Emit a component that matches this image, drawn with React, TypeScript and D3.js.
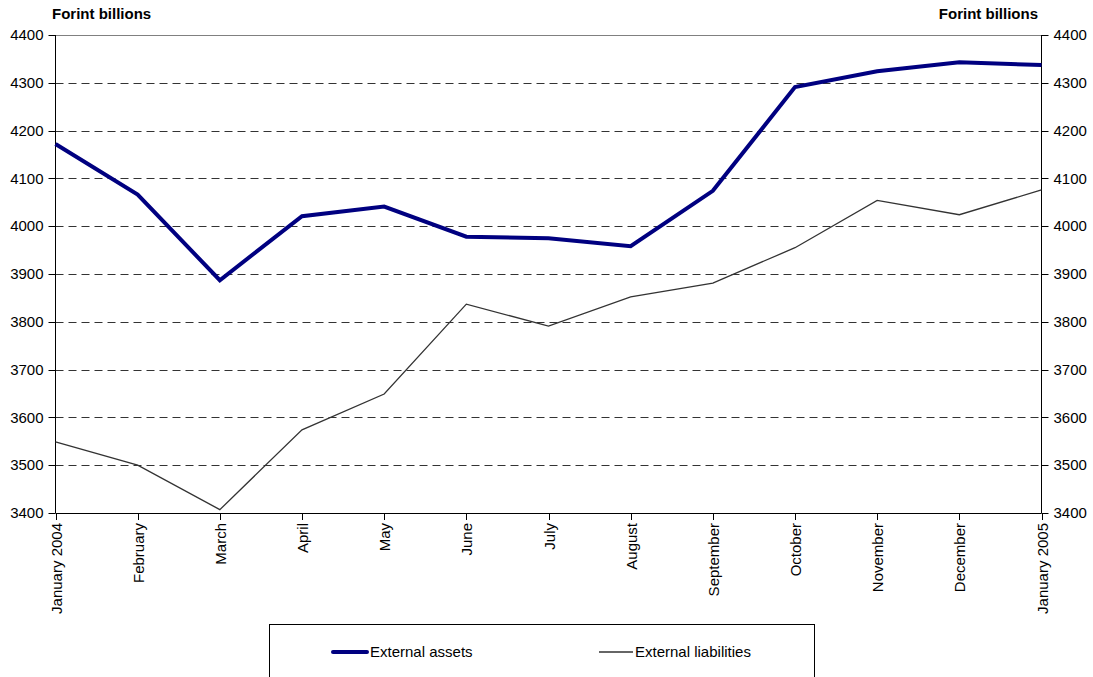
import React from "react";
import * as d3 from "d3";

const months = ["January 2004","February","March","April","May","June","July","August","September","October","November","December","January 2005"];
const externalAssets = [4172, 4066, 3887, 4021, 4041, 3978, 3975, 3958, 4074, 4291, 4324, 4343, 4337];
const externalLiabilities = [3549, 3500, 3407, 3574, 3649, 3837, 3791, 3852, 3881, 3955, 4054, 4024, 4076];
const yTicks = [3400, 3500, 3600, 3700, 3800, 3900, 4000, 4100, 4200, 4300, 4400];

const W = 1093, H = 677;
const left = 55.5, right = 1041.5, top = 35, bottom = 513;
const font = "Liberation Sans, Arial, sans-serif";
const fs = 15;

export default function App() {
  const x = d3.scalePoint<string>().domain(months).range([left, right]);
  const y = d3.scaleLinear().domain([3400, 4400]).range([bottom, top]);
  const line = (vals: number[]) =>
    d3.line<number>().x((_, i) => x(months[i]) as number).y((v) => y(v))(vals) || "";

  return (
    <svg width={W} height={H} style={{ position: "absolute", left: 0, top: 0, background: "#fff" }}>
      {yTicks.map((t) =>
        t === 3400 ? null : (
          <line key={t} x1={left} x2={right} y1={Math.round(y(t)) + 0.5} y2={Math.round(y(t)) + 0.5}
            stroke={t === 4400 ? "#808080" : "#333"} strokeWidth={1}
            strokeDasharray={t === 4400 ? undefined : "8,5"} />
        )
      )}
      <line x1={left} x2={left} y1={top} y2={bottom} stroke="#000" />
      <line x1={right} x2={right} y1={top} y2={bottom} stroke="#000" />
      <line x1={left} x2={right} y1={bottom + 0.5} y2={bottom + 0.5} stroke="#000" />
      {yTicks.map((t) => (
        <g key={"yt" + t}>
          <line x1={left - 7} x2={left} y1={Math.round(y(t)) + 0.5} y2={Math.round(y(t)) + 0.5} stroke="#000" />
          <line x1={right} x2={right + 7} y1={Math.round(y(t)) + 0.5} y2={Math.round(y(t)) + 0.5} stroke="#000" />
          <text x={left - 12} y={y(t)} dy="0.35em" textAnchor="end" fontFamily={font} fontSize={fs}>{t}</text>
          <text x={right + 12} y={y(t)} dy="0.35em" textAnchor="start" fontFamily={font} fontSize={fs}>{t}</text>
        </g>
      ))}
      {months.map((m) => {
        const px = Math.round(x(m) as number) + 0.5;
        return (
          <g key={m}>
            <line x1={px} x2={px} y1={bottom} y2={bottom + 7} stroke="#000" />
            <text transform={`translate(${px},${bottom + 10}) rotate(-90)`} dy="0.35em" textAnchor="end"
              fontFamily={font} fontSize={fs}>{m}</text>
          </g>
        );
      })}
      <path d={line(externalLiabilities)} fill="none" stroke="#333" strokeWidth={1.3} />
      <path d={line(externalAssets)} fill="none" stroke="#000080" strokeWidth={4} strokeLinejoin="miter" />
      <text x={52} y={19} fontFamily={font} fontSize={fs} fontWeight="bold">Forint billions</text>
      <text x={1038} y={19} textAnchor="end" fontFamily={font} fontSize={fs} fontWeight="bold">Forint billions</text>
      <rect x={269.5} y={624.5} width={545} height={60} fill="#fff" stroke="#000" />
      <line x1={333} x2={367} y1={652} y2={652} stroke="#000080" strokeWidth={4} strokeLinecap="round" />
      <text x={370} y={652} dy="0.35em" fontFamily={font} fontSize={fs}>External assets</text>
      <line x1={599} x2={633} y1={652} y2={652} stroke="#333" strokeWidth={1.3} />
      <text x={635} y={652} dy="0.35em" fontFamily={font} fontSize={fs}>External liabilities</text>
    </svg>
  );
}
